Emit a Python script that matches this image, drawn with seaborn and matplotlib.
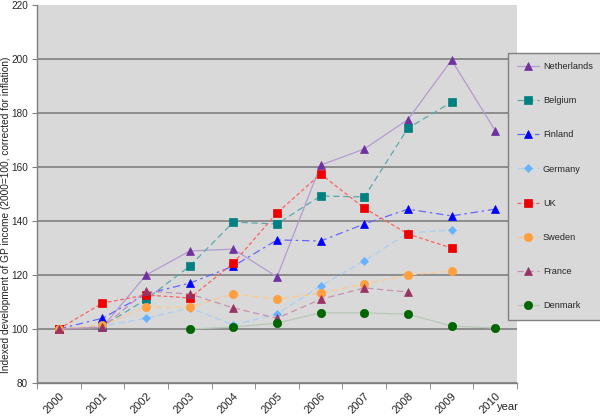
import matplotlib
matplotlib.use("Agg")
import matplotlib.pyplot as plt
import seaborn as sns
import pandas as pd
import numpy as np

years = [2000, 2001, 2002, 2003, 2004, 2005, 2006, 2007, 2008, 2009, 2010]
nan = np.nan

netherlands = [100, 100.7, 120, 128.9, 129.6, 119.3, 160.7, 166.7, 177.6, 199.6, 173.5]
belgium = [100, 101, 111, 123.3, 139.6, 138.9, 149.3, 148.9, 174.4, 184, nan]
finland = [100, 104, 113, 117, 123.3, 133, 132.6, 138.9, 144.4, 141.9, 144.4]
germany = [100, 101, 104, 107.8, 101.5, 105.5, 116, 125.2, 135.6, 136.7, nan]
uk = [100, 109.6, 112.6, 111.5, 124.4, 143, 157.4, 144.8, 135.2, 130, nan]
sweden = [100, 101.5, 108.1, 108.1, 113, 111, 113.3, 116.7, 120, 121.5, nan]
france = [100, 100.7, 114, 113, 107.8, 104, 111, 115.2, 113.7, nan, nan]
denmark = [nan, nan, nan, 100, 100.7, 102.2, 106, 106, 105.5, 101.1, 100.4]

countries = ["Netherlands", "Belgium", "Finland", "Germany", "UK", "Sweden", "France", "Denmark"]
values = [netherlands, belgium, finland, germany, uk, sweden, france, denmark]

# line colour, marker colour, marker, line style
styles = {
    "Netherlands": ("#B49AD2", "#7030A0", "^", "-"),
    "Belgium": ("#5AAAAA", "#008080", "s", (0, (5, 3))),
    "Finland": ("#6666FF", "#0000FF", "^", (0, (6, 3, 2, 3))),
    "Germany": ("#A8CFF5", "#66B2FF", "D", (0, (5, 3))),
    "UK": ("#FF6060", "#EE0000", "s", (0, (3, 2))),
    "Sweden": ("#FFC88A", "#FFA040", "o", (0, (5, 3))),
    "France": ("#C890AE", "#993366", "^", (0, (5, 3))),
    "Denmark": ("#B8C8B8", "#006600", "o", "-"),
}
msizes = {"^": 6, "s": 5.5, "D": 4.2, "o": 6}

rows = []
for name, vals in zip(countries, values):
    for i, v in enumerate(vals):
        rows.append({"country": name, "pos": i, "value": v})
df = pd.DataFrame(rows).dropna()

sns.set_style("white")
plt.rcParams["font.family"] = ["Liberation Sans", "DejaVu Sans"]

fig = plt.figure(figsize=(6, 4.19), dpi=100)
ax = fig.add_axes([0.0617, 0.0859, 0.8, 0.902])
ax.set_facecolor("#D9D9D9")

for name in countries:
    lc, mc, mk, ls = styles[name]
    sub = df[df["country"] == name]
    sns.lineplot(data=sub, x="pos", y="value", ax=ax, color=lc, linestyle=ls,
                 linewidth=0.9, marker=mk, markersize=msizes[mk],
                 markerfacecolor=mc, markeredgecolor=mc, markeredgewidth=0.5,
                 label=name, zorder=3)

ax.set_xlim(-0.5, len(years) - 0.5)
ax.set_ylim(80, 220)
ax.set_yticks(range(80, 221, 20))
ax.tick_params(axis="y", labelsize=7.2, length=3.5, color="#808080", direction="out",
               left=True, pad=3)
ax.set_xticks(range(len(years)))
ax.set_xticklabels([str(y) for y in years], rotation=45, ha="right",
                   rotation_mode="anchor", fontsize=8)
ax.set_xticks(np.arange(-0.5, len(years), 1), minor=True)
ax.tick_params(axis="x", which="major", length=0, pad=6)
ax.tick_params(axis="x", which="minor", length=4, color="#808080", bottom=True)

ax.yaxis.grid(True, color="#808080", linewidth=1.2)
ax.get_ygridlines()[-1].set_visible(False)
ax.set_axisbelow(True)

for s in ["top", "right"]:
    ax.spines[s].set_visible(False)
for s in ["left", "bottom"]:
    ax.spines[s].set_color("#808080")
    ax.spines[s].set_linewidth(1)

ax.set_xlabel("")
ax.set_ylabel("")
fig.text(0.0095, 0.487, "Indexed development of GP income (2000=100, corrected for inflation)",
         fontsize=7.3, rotation=90, ha="center", va="center", color="#222222")
fig.text(0.828, 0.022, "year", fontsize=8, ha="left")

leg = ax.legend(loc="upper left", bbox_to_anchor=(0.8467, 0.874),
                bbox_transform=fig.transFigure, fontsize=6.6, borderaxespad=0,
                labelspacing=2.75, handlelength=2.4, frameon=True, fancybox=False,
                borderpad=1.0, handletextpad=0.4)
leg.get_frame().set_facecolor("#D9D9D9")
leg.get_frame().set_edgecolor("#808080")
leg.get_frame().set_alpha(1)
leg.set_zorder(5)

plt.savefig("out.png", dpi=100)
plt.close()
